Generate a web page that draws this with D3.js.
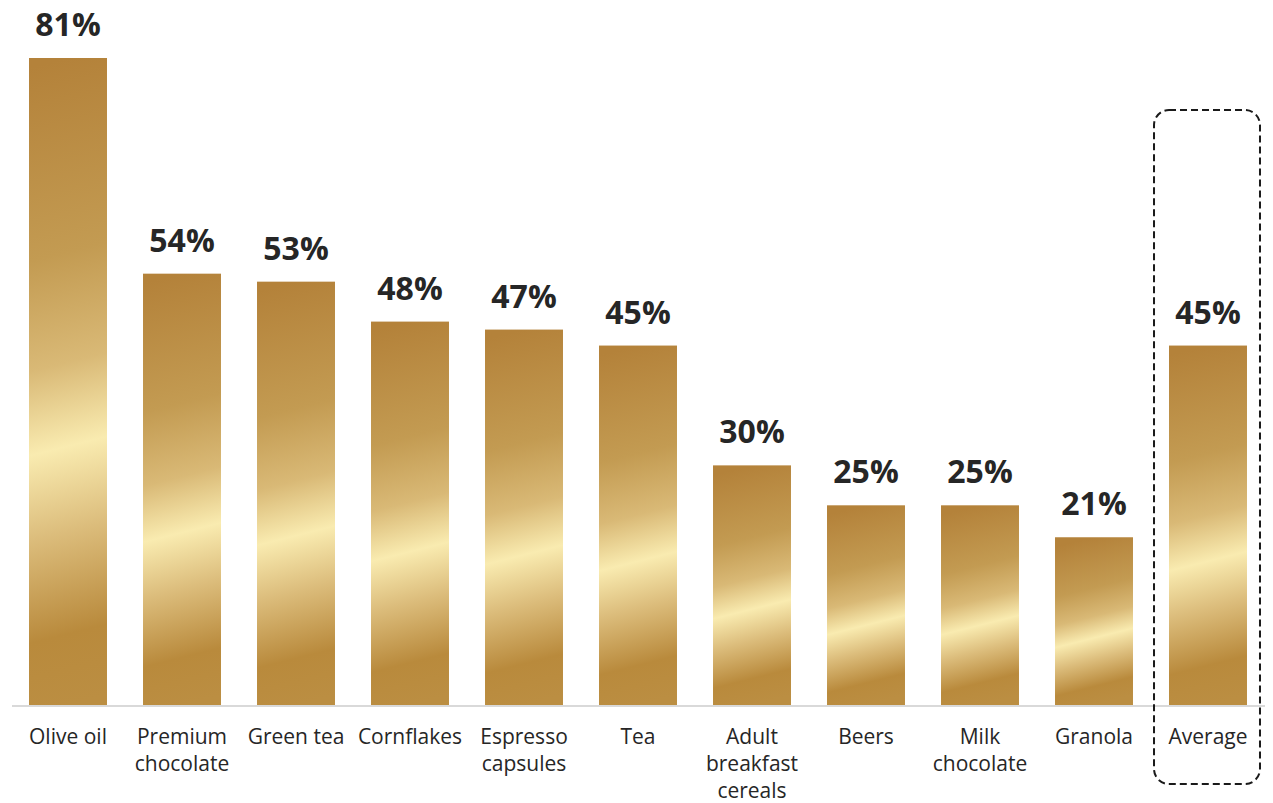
<!DOCTYPE html>
<html>
<head>
<meta charset="utf-8">
<script src="https://cdn.jsdelivr.net/npm/d3@7"></script>
<style>
  html, body { margin: 0; padding: 0; background: #ffffff; }
  svg { display: block; }
</style>
</head>
<body>
<svg id="chart" width="1273" height="803"></svg>
<script>
// Share of households buying each category (%)
const categories = [
  "Olive oil", "Premium chocolate", "Green tea", "Cornflakes", "Espresso capsules",
  "Tea", "Adult breakfast cereals", "Beers", "Milk chocolate", "Granola", "Average"
];
const labelLines = [
  ["Olive oil"], ["Premium", "chocolate"], ["Green tea"], ["Cornflakes"], ["Espresso", "capsules"],
  ["Tea"], ["Adult", "breakfast", "cereals"], ["Beers"], ["Milk", "chocolate"], ["Granola"], ["Average"]
];
const values = [81, 54, 53, 48, 47, 45, 30, 25, 25, 21, 45];
const highlighted = "Average";

const baseY = 705;
const svg = d3.select("#chart");

const x = d3.scaleBand()
  .domain(categories)
  .range([11, 1265])
  .paddingInner(0.316)
  .paddingOuter(0.158);

const y = d3.scaleLinear()
  .domain([0, 81])
  .range([baseY, 58]);

// Gold gradient per bar, with a slight diagonal sheen
const defs = svg.append("defs");
const stops = [
  [0.00, "#b4823a"],
  [0.30, "#c39b52"],
  [0.47, "#d9b976"],
  [0.60, "#f9ebb0"],
  [0.73, "#dcbd7c"],
  [0.89, "#b98a3c"],
  [1.00, "#bb8e42"]
];
const k = 0.25;
categories.forEach((c, i) => {
  const top = y(values[i]);
  const h = baseY - top;
  const cx = x(c) + x.bandwidth() / 2;
  const s = h / (1 + k * k);
  const g = defs.append("linearGradient")
    .attr("id", "gold" + i)
    .attr("gradientUnits", "userSpaceOnUse")
    .attr("x1", cx).attr("y1", top)
    .attr("x2", cx + s * k).attr("y2", top + s);
  stops.forEach(([o, col]) => g.append("stop").attr("offset", o).attr("stop-color", col));
});

// Bars
svg.append("g").selectAll("rect")
  .data(categories)
  .join("rect")
  .attr("x", d => x(d))
  .attr("y", (d, i) => y(values[i]))
  .attr("width", x.bandwidth())
  .attr("height", (d, i) => baseY - y(values[i]))
  .attr("fill", (d, i) => `url(#gold${i})`);

// Baseline
svg.append("line")
  .attr("x1", 12).attr("x2", 1265)
  .attr("y1", baseY + 1).attr("y2", baseY + 1)
  .attr("stroke", "#d9d9d9")
  .attr("stroke-width", 2);

// Value labels
svg.append("g").selectAll("text")
  .data(categories)
  .join("text")
  .attr("x", d => x(d) + x.bandwidth() / 2)
  .attr("y", (d, i) => y(values[i]) - 22)
  .attr("text-anchor", "middle")
  .attr("font-family", "'Open Sans', sans-serif")
  .attr("font-weight", 700)
  .attr("font-size", 32)
  .attr("fill", "#262626")
  .text((d, i) => values[i] + "%");

// Category labels
const catG = svg.append("g")
  .attr("font-family", "'Open Sans', sans-serif")
  .attr("font-size", 21)
  .attr("fill", "#262626")
  .attr("text-anchor", "middle");
categories.forEach((c, i) => {
  const cx = x(c) + x.bandwidth() / 2;
  const t = catG.append("text")
    .attr("x", cx)
    .attr("y", 744);
  labelLines[i].forEach((line, j) => {
    t.append("tspan")
      .attr("x", cx)
      .attr("dy", j === 0 ? 0 : 27)
      .text(line);
  });
});

// Dashed outline around the average column
const hx = x(highlighted);
svg.append("rect")
  .attr("x", hx - 15)
  .attr("y", 110)
  .attr("width", x.bandwidth() + 28)
  .attr("height", 674)
  .attr("rx", 15)
  .attr("fill", "none")
  .attr("stroke", "#1a1a1a")
  .attr("stroke-width", 2)
  .attr("stroke-dasharray", "7,4");
</script>
</body>
</html>
